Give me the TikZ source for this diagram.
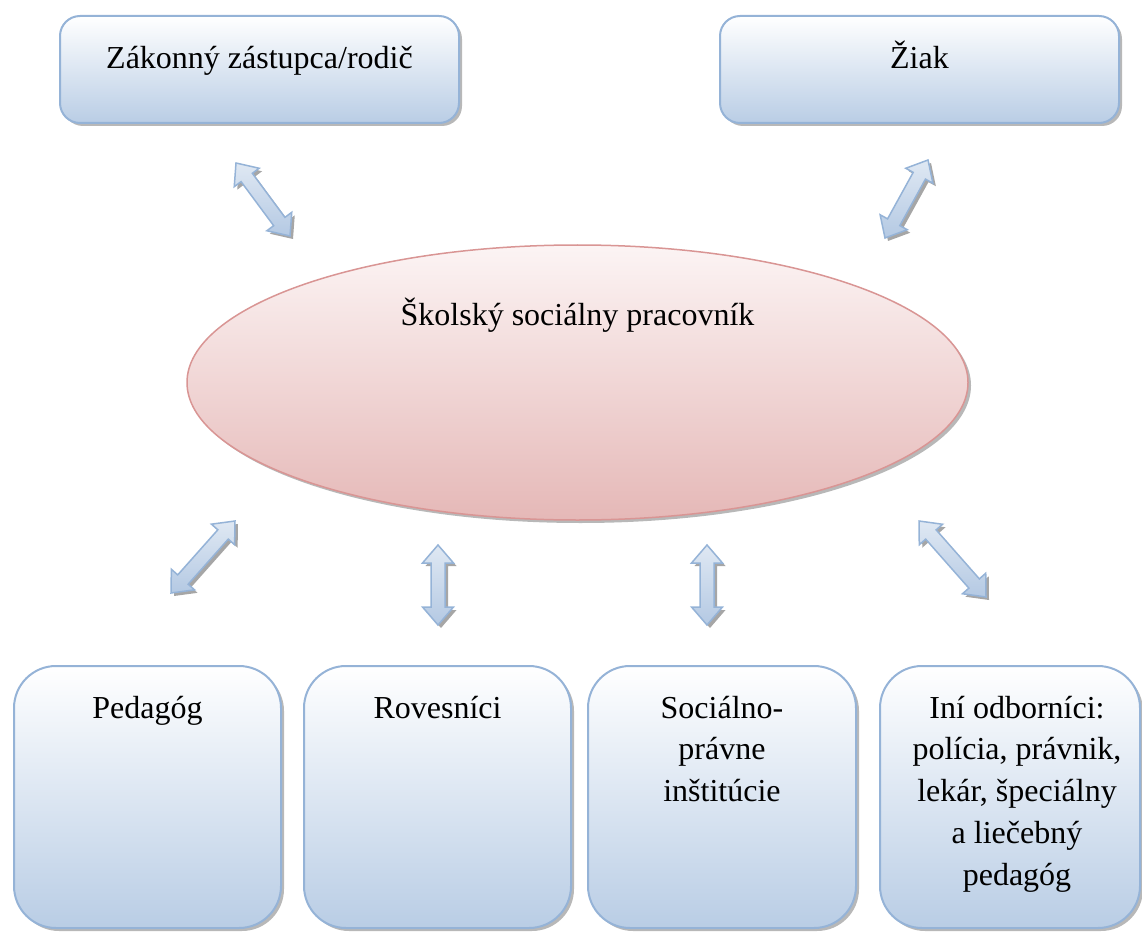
\documentclass[tikz,border=0pt]{standalone}
\usepackage{fontspec}
\setmainfont{Liberation Serif}
\usetikzlibrary{shapes.geometric,shadows,calc}
\definecolor{boxtop}{HTML}{FFFFFF}
\definecolor{boxbot}{HTML}{B9CDE5}
\definecolor{boxline}{HTML}{95B3D7}
\definecolor{elltop}{HTML}{FCF4F4}
\definecolor{ellbot}{HTML}{E5B8B7}
\definecolor{ellline}{HTML}{D99594}
\definecolor{arrtop}{HTML}{DFE8F3}
\definecolor{arrbot}{HTML}{B4C9E3}
\newcommand{\cellbody}[5][0pt]{\parbox[c][#3][t]{#2}{\centering\leftskip=#1 plus 1fil\rule{0pt}{#4}#5}}
\newcommand{\dblarr}[2]{%
  \draw[blockarrow] (#1)
    -- ($(#1)!18pt!(#2)!15.5pt!90:(#2)$)
    -- ($(#1)!18pt!(#2)!7pt!90:(#2)$)
    -- ($(#2)!18pt!(#1)!7pt!-90:(#1)$)
    -- ($(#2)!18pt!(#1)!15.5pt!-90:(#1)$)
    -- (#2)
    -- ($(#2)!18pt!(#1)!15.5pt!90:(#1)$)
    -- ($(#2)!18pt!(#1)!7pt!90:(#1)$)
    -- ($(#1)!18pt!(#2)!7pt!-90:(#2)$)
    -- ($(#1)!18pt!(#2)!15.5pt!-90:(#2)$)
    -- cycle;}
\tikzset{
  shadowed/.style={drop shadow={shadow xshift=3pt,shadow yshift=-3pt,fill=black,opacity=0.28}},
  bluebox/.style={draw=boxline, line width=2pt, top color=boxtop, bottom color=boxbot,
    shadowed, inner sep=0pt, font=\fontsize{32}{41.75}\selectfont},
  topbox/.style={bluebox, rounded corners=20pt},
  lowbox/.style={bluebox, rounded corners=42pt},
  centerell/.style={ellipse, draw=ellline, line width=1.5pt, top color=elltop, bottom color=ellbot,
    shadowed, inner sep=0pt, minimum width=781pt, minimum height=275pt,
    font=\fontsize{32}{41.75}\selectfont, text height=20pt, text depth=135pt},
  blockarrow/.style={draw=boxline, line width=1.5pt, line join=miter, top color=arrtop, bottom color=arrbot,
    drop shadow={shadow xshift=3pt,shadow yshift=-3pt,fill=black,opacity=0.35}}
}
\begin{document}
\begin{tikzpicture}[x=1pt,y=-1pt]
\useasboundingbox (0,0) rectangle (1142,933);
% top boxes
\node[topbox] (parent) at (259.5,69.5) {\cellbody{399pt}{107pt}{53pt}{Zákonný zástupca/rodič}};
\node[topbox] (pupil) at (919.5,69.5) {\cellbody{399pt}{107pt}{53pt}{Žiak}};
% central ellipse
\node[centerell] (ssp) at (577.5,382.5) {Školský sociálny pracovník};
% bottom boxes
\node[lowbox] (ped) at (147.5,797) {\cellbody{267pt}{262pt}{52pt}{Pedagóg}};
\node[lowbox] (peers) at (437.5,797) {\cellbody{267pt}{262pt}{52pt}{Rovesníci}};
\node[lowbox] (inst) at (722,797) {\cellbody{268pt}{262pt}{52pt}{Sociálno-\\právne\\inštitúcie}};
\node[lowbox] (other) at (1010,797) {\cellbody[14pt]{260pt}{262pt}{52pt}{Iní odborníci:\\polícia, právnik,\\lekár, špeciálny\\a liečebný\\pedagóg}};
% arrow end points
\coordinate (a1s) at (236,163); \coordinate (a1e) at (290,236);
\coordinate (a2s) at (928,160); \coordinate (a2e) at (885,238);
\coordinate (a3s) at (235,521); \coordinate (a3e) at (171,593);
\coordinate (a4s) at (438,545); \coordinate (a4e) at (438,625);
\coordinate (a5s) at (707,545); \coordinate (a5e) at (707,625);
\coordinate (a6s) at (919,521); \coordinate (a6e) at (986,597);
\dblarr{a1s}{a1e}
\dblarr{a2s}{a2e}
\dblarr{a3s}{a3e}
\dblarr{a4s}{a4e}
\dblarr{a5s}{a5e}
\dblarr{a6s}{a6e}
\end{tikzpicture}
\end{document}
